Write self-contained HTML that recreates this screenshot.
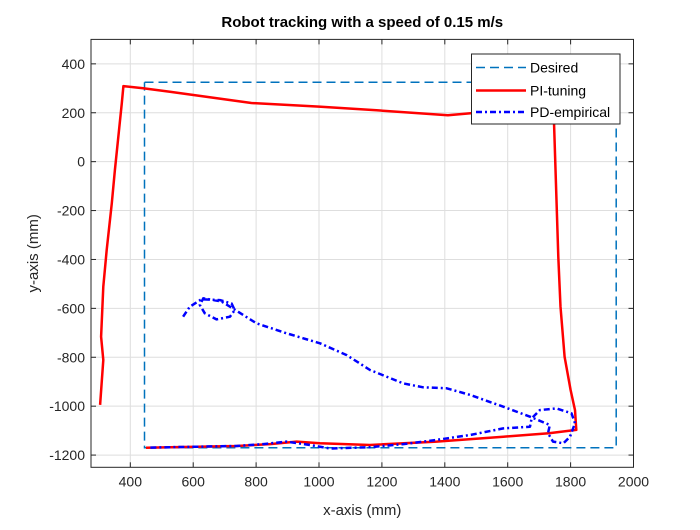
<!DOCTYPE html>
<html><head><meta charset="utf-8"><style>
body{margin:0;background:#fff}
svg text{font-family:"Liberation Sans",Arial,sans-serif}
</style></head><body>
<svg id="chart" width="700" height="525" xmlns="http://www.w3.org/2000/svg"></svg>
<script>
const xTicks=[400,600,800,1000,1200,1400,1600,1800,2000];
const yTicks=[400,200,0,-200,-400,-600,-800,-1000,-1200];
const desiredX=[445,1945,1945,445,445];
const desiredY=[325,325,-1170,-1170,325];
const piX=[304,314,307,314,325,341,351,373,378,441,526,785,1000,1183,1410,1500,1650,1745,1747,1761,1768,1781,1800,1814,1818,1731,1586,1374,1162,1003,929,844,738,526,450];
const piY=[-995,-811,-716,-511,-361,-170,-34,239,309,300,286,240,225,210,190,200,200,196,174,-389,-593,-798,-934,-1016,-1097,-1111,-1125,-1145,-1159,-1152,-1145,-1155,-1163,-1168,-1170];
const pdX=[568,589,626,685,722,732,717,674,637,621,632,690,738,801,897,1003,1088,1162,1268,1331,1406,1480,1586,1671,1734,1728,1744,1777,1798,1814,1803,1755,1702,1676,1671,1586,1480,1374,1268,1162,1035,971,897,823,738,526,455];
const pdY=[-634,-593,-563,-566,-580,-607,-634,-645,-620,-586,-559,-572,-610,-661,-702,-743,-791,-852,-907,-923,-927,-954,-1002,-1043,-1077,-1111,-1145,-1152,-1125,-1070,-1029,-1009,-1016,-1050,-1084,-1091,-1118,-1138,-1155,-1168,-1173,-1159,-1145,-1155,-1163,-1168,-1170];

const L=91,R=633.5,T=39.4,B=467.3,XMIN=275,XMAX=2000,YMIN=-1250,YMAX=500;
const sx=v=>L+(v-XMIN)/(XMAX-XMIN)*(R-L);
const sy=v=>B-(v-YMIN)/(YMAX-YMIN)*(B-T);
const svg=document.getElementById('chart');
const NS='http://www.w3.org/2000/svg';
function mk(tag,attrs,parent){const e=document.createElementNS(NS,tag);for(const k in attrs)e.setAttribute(k,attrs[k]);(parent||svg).appendChild(e);return e;}

mk('rect',{x:L,y:T,width:R-L,height:B-T,fill:'#fff'});
xTicks.forEach(t=>{
  const g=mk('line',{x1:sx(t),x2:sx(t),y1:T,y2:B,stroke:'#dedede','stroke-width':1});
  
  
  mk('line',{x1:sx(t),x2:sx(t),y1:B,y2:B-5,stroke:'#262626'});
  mk('line',{x1:sx(t),x2:sx(t),y1:T,y2:T+5,stroke:'#262626'});
  const tx=mk('text',{x:sx(t),y:B+19,'text-anchor':'middle','font-size':'14',fill:'#262626'});
  tx.textContent=t;
  
  
});
yTicks.forEach(t=>{
  const g=mk('line',{x1:L,x2:R,y1:sy(t),y2:sy(t),stroke:'#dedede','stroke-width':1});
  
  
  mk('line',{x1:L,x2:L+5,y1:sy(t),y2:sy(t),stroke:'#262626'});
  mk('line',{x1:R,x2:R-5,y1:sy(t),y2:sy(t),stroke:'#262626'});
  const tx=mk('text',{x:L-6,y:sy(t)+5,'text-anchor':'end','font-size':'14',fill:'#262626'});
  tx.textContent=t;
  
  
});
function path(xs,ys){return xs.map((v,i)=>(i?'L':'M')+sx(v).toFixed(1)+','+sy(ys[i]).toFixed(1)).join(' ');}
const d=mk('path',{d:path(desiredX,desiredY),fill:'none',stroke:'#0072BD','stroke-width':1.5,'stroke-dasharray':'9,5'});


const p=mk('path',{d:path(piX,piY),fill:'none',stroke:'#ff0000','stroke-width':2.5,'stroke-linejoin':'round'});


const q=mk('path',{d:path(pdX,pdY),fill:'none',stroke:'#0000ff','stroke-width':2.5,'stroke-dasharray':'6,3,2,3','stroke-linejoin':'round'});


mk('rect',{x:L,y:T,width:R-L,height:B-T,fill:'none',stroke:'#262626','stroke-width':1});

// legend
const lg=mk('g',{});


mk('rect',{x:471.5,y:54,width:148.5,height:70,fill:'#fff',stroke:'#262626','stroke-width':1},lg);
const entries=[['Desired','#0072BD','9,5',1.5,67.5],['PI-tuning','#ff0000','',2.5,90.5],['PD-empirical','#0000ff','6,3,2,3',2.5,112]];
entries.forEach(e=>{
  const ln=mk('line',{x1:476,x2:526,y1:e[4],y2:e[4],stroke:e[1],'stroke-width':e[3]},lg);
  if(e[2])ln.setAttribute('stroke-dasharray',e[2]);
  const t=mk('text',{x:530,y:e[4]+5,'font-size':'14',fill:'#000'},lg);
  t.textContent=e[0];
  
  
});
const title=mk('text',{x:(L+R)/2,y:27,'text-anchor':'middle','font-size':'15','font-weight':'bold',fill:'#000'});
title.textContent='Robot tracking with a speed of 0.15 m/s';


const xl=mk('text',{x:(L+R)/2,y:515,'text-anchor':'middle','font-size':'15',fill:'#262626'});
xl.textContent='x-axis (mm)';


const yl=mk('text',{x:0,y:0,'text-anchor':'middle','font-size':'15',fill:'#262626',transform:'translate(38,'+((T+B)/2)+') rotate(-90)'});
yl.textContent='y-axis (mm)';


</script>
</body></html>
